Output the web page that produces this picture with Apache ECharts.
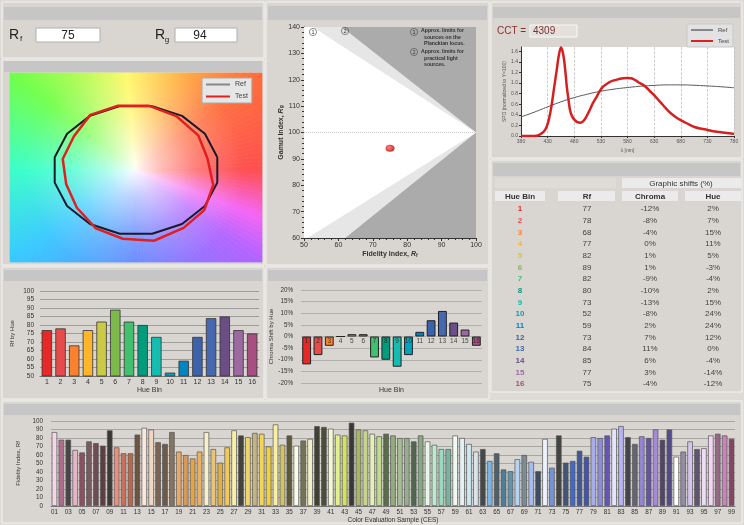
<!DOCTYPE html>
<html><head><meta charset="utf-8">
<script src="https://cdn.jsdelivr.net/npm/echarts@6/dist/echarts.min.js"></script>
<style>html,body{margin:0;padding:0;background:#dedbd6;}#c{width:744px;height:525px;}</style>
</head><body><div id="c"></div><script>
// ---------- DATA ----------
const RF = 75, RG = 94, CCT = 4309;
const hueBins = [1,2,3,4,5,6,7,8,9,10,11,12,13,14,15,16];
const rfByHue = [77,78,68,77,82,89,82,80,73,52,59,73,84,85,77,75];
const chromaShift = [-12,-8,-4,0,1,1,-9,-10,-13,-8,2,7,11,6,3,-4];
const hueShift = [2,7,15,11,5,-3,-4,2,15,24,24,12,0,-4,-14,-12];
const hueColors = ['#e62828','#e74b4b','#fb812e','#ffb529','#cbca46','#7eb94c','#41c06d','#009c7c',
  '#16bcb0','#00a4bf','#0085c3','#3b62aa','#4568ae','#6a4e85','#9d69a1','#a74f81'];

const spdTicks = [380,430,480,530,580,630,680,730,780];
const testNm  = [380,400,409,414,419,424,428,432,437,442,447,451,455,458,461,464,466,469,472,476,481,486,491,497,503,509,515,522,528,534,541,547,553,559,566,572,580,586,591,597,603,610,616,623,630,638,647,656,666,673,680,689,697,706,716,730,741,753,766,780];
const testVal = [0,0,0.005,0.02,0.05,0.1,0.17,0.3,0.55,0.9,1.24,1.52,1.67,1.6,1.43,1.15,0.93,0.7,0.49,0.37,0.3,0.26,0.25,0.28,0.37,0.49,0.62,0.74,0.85,0.93,0.98,1.02,1.045,1.06,1.08,1.09,1.095,1.09,1.075,1.04,1.0,0.96,0.91,0.84,0.77,0.68,0.58,0.48,0.39,0.34,0.3,0.25,0.21,0.17,0.14,0.115,0.09,0.075,0.055,0.04];
const refNm  = [380,405,430,455,480,505,530,555,580,605,630,655,680,705,730,755,780];
const refVal = [0.36,0.45,0.55,0.645,0.725,0.79,0.845,0.885,0.915,0.94,0.955,0.965,0.965,0.958,0.945,0.93,0.91];

const gamutLight = [[50,140],[61,140],[100,100],[62,60],[50,60]];
const gamutWhite = [[50,140],[52.5,140],[100,100],[51,60],[50,60]];

const cesLabels = Array.from({length:99},(_,i)=>String(i+1).padStart(2,'0'));
const cesValues = [87,78,78,66,63,76,74,71,89,69,62,62,84,92,90,75,73,87,64,60,56,64,87,67,51,69,89,83,81,86,
  85,70,96,72,83,71,77,79,94,93,91,84,83,98,90,89,85,82,85,83,80,80,76,83,76,72,67,67,83,80,
  73,64,67,53,62,43,41,55,60,52,41,79,45,83,51,53,65,58,81,80,83,91,94,81,73,82,80,90,78,90,
  58,64,76,67,68,83,85,83,79];
const cesColors = ['#f4d6e6','#b06c8c','#4a4448','#e8b4c8','#8c5064','#7a5c60','#6e4c54','#5e3c40','#3c3838','#e8907c',
  '#c8705c','#b8684c','#6c5444','#fae8de','#f2d8c4','#7c6454','#6e5a4a','#847464','#e8a868','#d89858',
  '#e4a448','#ecb060','#f8f0cc','#e8c474','#e0b040','#f4c858','#f8f0a8','#44443a','#f0d468','#c4b484',
  '#f4d454','#f0d040','#f8f0a0','#d4c464','#5c5838','#fafaec','#747454','#f0f0c4','#404034','#4c4c3c',
  '#f4f8d0','#e4f08c','#d4e060','#383834','#a8b468','#c8d48c','#e4f0b4','#c0dc8c','#5c6c48','#94ac7c',
  '#a8bc94','#98ac90','#506650','#88a884','#e8f8e8','#c0e8d0','#98dcc0','#78b4a0','#f0f8f4','#e4f0f0',
  '#cce8f0','#d8e4ec','#444848','#78b4e4','#506068','#4c7c98','#6494ac','#b4d4f4','#7c8c94','#a4bcf0',
  '#3c4c64','#eef2ff','#7494d8','#444444','#445474','#4468c8','#445894','#4454a8','#a8acec','#8c8cdc',
  '#6454b4','#e4e4ff','#b8b4f4','#44444c','#646474','#9484d4','#6454a4','#a888d8','#54446c','#544c88',
  '#ffffff','#948ca4','#d4c4ec','#645474','#ecdcf4','#f4d4f4','#946884','#c884b8','#844464'];

// ---------- helpers ----------
const FONT = 'Liberation Sans, Arial, sans-serif';
const G = [];
function panel(x,y,w,h,hy,hh){
  G.push({type:'rect',shape:{x:x,y:y,width:w,height:h},style:{fill:'#d9d6d1',stroke:'#f3f2ef',lineWidth:1},z:-30});
  G.push({type:'rect',shape:{x:x+2,y:hy,width:w-4,height:hh},style:{fill:'#c6c6c6'},z:-29});
}
function txt(x,y,t,o){
  G.push(Object.assign({type:'text',x:x,y:y,style:Object.assign({text:t,fontFamily:FONT,fontSize:8,fill:'#333',align:'center',verticalAlign:'middle'},o||{}),z:20}));
}
panel(2,2,262,56,7,13);
panel(2,60,262,205,61,11);
panel(266,2,223,263,6,14);
panel(491,2,251,156,7,11);
panel(491,160,251,232,163,13);
panel(2,267,262,132,270,11);
panel(266,267,223,132,270,11);
panel(2,401,740,122,404,11);

// Rf / Rg boxes
txt(14,35,'R',{fontSize:14,fill:'#222'});
txt(21,39,'f',{fontSize:8,fill:'#222'});
G.push({type:'rect',shape:{x:36,y:28,width:64,height:14},style:{fill:'#fff',stroke:'#b0b0b0'},z:10});
txt(68,35.5,String(RF),{fontSize:12,fill:'#222'});
txt(160,35,'R',{fontSize:14,fill:'#222'});
txt(167,40,'g',{fontSize:8,fill:'#222'});
G.push({type:'rect',shape:{x:175,y:28,width:62,height:14},style:{fill:'#fff',stroke:'#b0b0b0'},z:10});
txt(200,35.5,String(RG),{fontSize:12,fill:'#222'});

// CCT
txt(497,31,'CCT =',{fontSize:10,fill:'#8b2c2c',align:'left'});
G.push({type:'rect',shape:{x:530,y:25,width:47,height:12},style:{fill:'#e4e1dc',stroke:'#f8f8f8'},z:10});
txt(533,31.5,String(CCT),{fontSize:10,fill:'#7a3030',align:'left'});

// hue wheel background
const wx0=10, wy0=73, wx1=262, wy1=262, wcx=135, wcy=170;
const anchors=[[0,[255,70,70]],[37,[255,105,55]],[65,[255,175,60]],[95,[255,248,90]],[142,[110,255,70]],
  [180,[50,255,200]],[216,[50,200,255]],[270,[85,125,255]],[324,[175,95,255]],[340,[245,95,245]],[360,[255,70,70]]];
function hueCol(a){
  for(let i=0;i<anchors.length-1;i++){
    const [a0,c0]=anchors[i],[a1,c1]=anchors[i+1];
    if(a>=a0&&a<=a1){const t=(a-a0)/(a1-a0);return 'rgb('+c0.map((v,k)=>Math.round(v+(c1[k]-v)*t)).join(',')+')';}
  }
  return 'rgb(255,70,70)';
}
function rayHit(a){
  const dx=Math.cos(a*Math.PI/180), dy=-Math.sin(a*Math.PI/180);
  let t=1e9;
  if(dx>1e-9)t=Math.min(t,(wx1-wcx)/dx); if(dx<-1e-9)t=Math.min(t,(wx0-wcx)/dx);
  if(dy>1e-9)t=Math.min(t,(wy1-wcy)/dy); if(dy<-1e-9)t=Math.min(t,(wy0-wcy)/dy);
  return [wcx+dx*t,wcy+dy*t];
}
const corners=[[wx1,wy0],[wx0,wy0],[wx0,wy1],[wx1,wy1]].map(p=>{let a=Math.atan2(-(p[1]-wcy),p[0]-wcx)*180/Math.PI;if(a<0)a+=360;return {p:p,a:a};});
for(let a=0;a<360;a+=2){
  const pts=[[wcx,wcy],rayHit(a)];
  corners.forEach(c=>{if(c.a>a&&c.a<a+2)pts.push(c.p);});
  pts.push(rayHit(a+2));
  const col=hueCol(a+1);
  G.push({type:'polygon',shape:{points:pts},style:{fill:col,stroke:col,lineWidth:0.6},z:-20});
}
G.push({type:'rect',shape:{x:wx0,y:wy0,width:wx1-wx0,height:wy1-wy0},
  style:{fill:new echarts.graphic.RadialGradient((wcx-wx0)/(wx1-wx0),(wcy-wy0)/(wy1-wy0),0.95,[
    {offset:0,color:'rgba(255,255,255,0.97)'},{offset:0.15,color:'rgba(255,255,255,0.62)'},
    {offset:0.35,color:'rgba(255,255,255,0.28)'},{offset:0.6,color:'rgba(255,255,255,0.06)'},{offset:1,color:'rgba(255,255,255,0)'}])},z:-19});

// gamut annotations
function circNum(x,y,n){
  G.push({type:'circle',shape:{cx:x,cy:y,r:3.6},style:{fill:'none',stroke:'#444',lineWidth:0.6},z:20});
  txt(x,y+0.3,n,{fontSize:5.5,fill:'#333'});
}
circNum(313,32,'1'); circNum(345,31,'2');
circNum(414,32,'1'); circNum(414,52,'2');
const noteStyle={fontSize:5.2,fill:'#333',align:'left',fontWeight:'bold'};
txt(421,31,'Approx. limits for',noteStyle);
txt(424,37.3,'sources on the',noteStyle);
txt(424,43.6,'Planckian locus.',noteStyle);
txt(421,52,'Approx. limits for',noteStyle);
txt(424,58.3,'practical light',noteStyle);
txt(424,64.6,'sources.',noteStyle);

// table
const colX=[520,587,650,713];
G.push({type:'rect',shape:{x:495,y:178,width:121,height:10},style:{fill:'#dfdcd7'},z:5});
G.push({type:'rect',shape:{x:622,y:178,width:119,height:10},style:{fill:'#ebebeb'},z:5});
txt(681,183.3,'Graphic shifts (%)',{fontSize:8,fill:'#333'});
[[495,50,'Hue Bin'],[558,57,'Rf'],[622,56,'Chroma'],[685,56,'Hue']].forEach((c,i)=>{
  G.push({type:'rect',shape:{x:c[0],y:191,width:c[1],height:10},style:{fill:'#ebebeb'},z:5});
  txt(colX[i],196.3,c[2],{fontSize:8,fill:'#333',fontWeight:'bold'});
});
hueBins.forEach((b,i)=>{
  const y=209+i*11.67;
  txt(colX[0],y,String(b),{fontSize:8,fill:hueColors[i],fontWeight:'bold'});
  txt(colX[1],y,String(rfByHue[i]),{fontSize:8,fill:'#444'});
  txt(colX[2],y,chromaShift[i]+'%',{fontSize:8,fill:'#444'});
  txt(colX[3],y,hueShift[i]+'%',{fontSize:8,fill:'#444'});
});

// vector graphic points
const refPts=[], testPts=[];
hueBins.forEach((b,i)=>{
  const th=(i+0.5)*22.5*Math.PI/180;
  const tt=th+hueShift[i]/100*22.5*Math.PI/180;
  const rr=1+chromaShift[i]/100;
  refPts.push([Math.cos(th),Math.sin(th)]);
  testPts.push([rr*Math.cos(tt),rr*Math.sin(tt)]);
});
refPts.push(refPts[0]); testPts.push(testPts[0]);

const axLbl={fontFamily:FONT,fontSize:7,color:'#333'};
const chart=echarts.init(document.getElementById('c'),null,{width:744,height:525});
chart.setOption({
  animation:false,
  textStyle:{fontFamily:FONT},
  graphic:{elements:G},
  legend:[
    {left:202,top:78,orient:'vertical',data:[{name:'Ref',itemStyle:{color:'#888'}},{name:'Test',itemStyle:{color:'#e02020'}}],
     icon:'rect',itemWidth:24,itemHeight:2,itemGap:5,padding:[3,4,3,4],backgroundColor:'#e6e6e6',borderColor:'#aaa',borderWidth:1,
     textStyle:{fontSize:7,color:'#444'},selectedMode:false},
    {left:687,top:24,orient:'vertical',data:[{name:'Ref',itemStyle:{color:'#888'}},{name:'Test',itemStyle:{color:'#e02020'}}],
     icon:'rect',itemWidth:22,itemHeight:2,itemGap:5,padding:[3,4,3,4],backgroundColor:'#e2e2e2',borderColor:'#c8c8c8',borderWidth:1,
     textStyle:{fontSize:6,color:'#444'},selectedMode:false}
  ],
  grid:[
    {left:10,top:73,width:252,height:189},
    {left:304,top:27,width:172,height:211,show:true,backgroundColor:'#ababab',borderWidth:0},
    {left:521,top:47,width:213,height:89,show:true,backgroundColor:'#fff',borderWidth:0},
    {left:40,top:291,width:219,height:85},
    {left:301,top:290,width:181,height:93},
    {left:51,top:421,width:684,height:85}
  ],
  xAxis:[
    {gridIndex:0,type:'value',min:-1.52,max:1.52,show:false},
    {gridIndex:1,type:'value',min:50,max:100,interval:10,axisLine:{lineStyle:{color:'#333'}},axisTick:{length:3},
     minorTick:{show:true,splitNumber:5,length:2},splitLine:{show:false},axisLabel:Object.assign({margin:4},axLbl),
     name:'Fidelity Index, {i|R}{s|f}',nameLocation:'middle',nameGap:13,
     nameTextStyle:{fontSize:7,fontWeight:'bold',color:'#333',rich:{i:{fontSize:7,fontWeight:'bold',fontStyle:'italic'},s:{fontSize:5,fontWeight:'bold',verticalAlign:'bottom'}}}},
    {gridIndex:2,type:'value',min:380,max:780,interval:50,axisLine:{lineStyle:{color:'#333'}},axisTick:{length:2,customValues:spdTicks},
     axisLabel:{fontSize:5,color:'#555',margin:3,customValues:spdTicks},splitLine:{show:true,lineStyle:{color:'#b8b8b8',type:'dashed',width:0.7}},
     name:'λ [nm]',nameLocation:'middle',nameGap:12,nameTextStyle:{fontSize:5,color:'#555'}},
    {gridIndex:3,type:'category',data:hueBins.map(String),axisTick:{show:false},axisLine:{lineStyle:{color:'#777'}},
     axisLabel:Object.assign({margin:3},axLbl),name:'Hue Bin',nameLocation:'middle',nameGap:10,nameTextStyle:{fontSize:7,color:'#333'}},
    {gridIndex:4,type:'category',data:hueBins.map(String),axisTick:{show:false},axisLine:{show:false},axisLabel:{show:false},
     name:'Hue Bin',nameLocation:'middle',nameGap:4,nameTextStyle:{fontSize:7,color:'#333'}},
    {gridIndex:5,type:'category',data:cesLabels,axisTick:{show:false},axisLine:{lineStyle:{color:'#777'}},
     axisLabel:{interval:1,fontSize:6.3,color:'#333',margin:3},name:'Color Evaluation Sample (CES)',nameLocation:'middle',nameGap:11,
     nameTextStyle:{fontSize:6.5,color:'#333'}}
  ],
  yAxis:[
    {gridIndex:0,type:'value',min:-1.415,max:1.49,show:false},
    {gridIndex:1,type:'value',min:60,max:140,interval:10,axisLine:{show:true,lineStyle:{color:'#333'}},axisTick:{show:true,length:3},
     minorTick:{show:true,splitNumber:5,length:2},splitLine:{show:false},axisLabel:Object.assign({margin:4},axLbl),
     name:'Gamut Index, {i|R}{s|g}',nameLocation:'middle',nameGap:19,
     nameTextStyle:{fontSize:7,fontWeight:'bold',color:'#333',rich:{i:{fontSize:7,fontWeight:'bold',fontStyle:'italic'},s:{fontSize:5,fontWeight:'bold',verticalAlign:'bottom'}}}},
    {gridIndex:2,type:'value',min:0,max:1.68,interval:0.2,axisLine:{show:true,lineStyle:{color:'#333'}},axisTick:{show:true,length:2},
     splitLine:{show:false},axisLabel:{fontSize:5,color:'#555',margin:3,showMaxLabel:false,formatter:v=>v.toFixed(1)},
     name:'SPD (normalized to Y=100)',nameLocation:'middle',nameGap:14,nameTextStyle:{fontSize:5,color:'#555'}},
    {gridIndex:3,type:'value',min:50,max:100,interval:5,splitLine:{lineStyle:{color:'#8e8e8e',width:0.8}},
     axisLabel:Object.assign({margin:6},axLbl,{fontSize:6.5}),name:'Rf by Hue',nameLocation:'middle',nameGap:25,nameTextStyle:{fontSize:6,color:'#333'}},
    {gridIndex:4,type:'value',min:-20,max:20,interval:5,splitLine:{lineStyle:{color:'#a6a6a6',width:0.8}},
     axisLabel:Object.assign({margin:8,formatter:'{value}%'},axLbl,{fontSize:6.3}),name:'Chroma Shift by Hue',nameLocation:'middle',nameGap:22,nameTextStyle:{fontSize:6,color:'#333'}},
    {gridIndex:5,type:'value',min:0,max:100,interval:10,splitLine:{lineStyle:{color:'#999',width:0.8}},
     axisLabel:Object.assign({margin:8},axLbl,{fontSize:6.3}),name:'Fidelity Index, Rf',nameLocation:'middle',nameGap:27,nameTextStyle:{fontSize:6,color:'#333'}}
  ],
  series:[
    {name:'Ref',type:'line',xAxisIndex:0,yAxisIndex:0,data:refPts,showSymbol:false,lineStyle:{color:'#1a1a2a',width:2},itemStyle:{color:'#888'},z:3},
    {name:'Test',type:'line',xAxisIndex:0,yAxisIndex:0,data:testPts,showSymbol:false,lineStyle:{color:'#e02020',width:2.5},itemStyle:{color:'#e02020'},z:4},
    {type:'custom',xAxisIndex:1,yAxisIndex:1,data:[[0],[1]],silent:true,z:1,
     renderItem:(p,api)=>{const reg=p.dataIndex===0?gamutLight:gamutWhite;
       return {type:'polygon',shape:{points:reg.map(v=>api.coord(v))},style:{fill:p.dataIndex===0?'#e6e6e6':'#ffffff'}};}},
    {type:'line',xAxisIndex:1,yAxisIndex:1,data:[[50,100],[100,100]],showSymbol:false,lineStyle:{color:'#c8c8c8',type:'dotted',width:1},z:2},
    {type:'scatter',xAxisIndex:1,yAxisIndex:1,data:[[RF,RG]],symbolSize:[9,7],z:5,
     itemStyle:{color:new echarts.graphic.RadialGradient(0.4,0.4,0.6,[{offset:0,color:'#ff6060'},{offset:1,color:'#c00000'}])}},
    {name:'Ref',type:'line',xAxisIndex:2,yAxisIndex:2,data:refNm.map((n,i)=>[n,refVal[i]]),showSymbol:false,smooth:true,lineStyle:{color:'#555',width:1},itemStyle:{color:'#888'}},
    {name:'Test',type:'line',xAxisIndex:2,yAxisIndex:2,data:testNm.map((n,i)=>[n,testVal[i]]),showSymbol:false,smooth:0.3,lineStyle:{color:'#d42020',width:2.5},itemStyle:{color:'#e02020'}},
    {type:'bar',xAxisIndex:3,yAxisIndex:3,barCategoryGap:'24%',
     data:rfByHue.map((v,i)=>({value:v,itemStyle:{color:hueColors[i],borderColor:'#333',borderWidth:0.8}}))},
    {type:'bar',xAxisIndex:4,yAxisIndex:4,barCategoryGap:'22%',
     data:chromaShift.map((v,i)=>({value:v,itemStyle:{color:hueColors[i],borderColor:'#222',borderWidth:1}}))},
    {type:'scatter',xAxisIndex:4,yAxisIndex:4,symbolSize:0,z:10,silent:true,
     data:hueBins.map((b,i)=>[i,0]),
     label:{show:true,position:'bottom',distance:1,fontSize:6.5,color:'#222',formatter:p=>String(hueBins[p.dataIndex])}},
    {type:'bar',xAxisIndex:5,yAxisIndex:5,barCategoryGap:'20%',
     data:cesValues.map((v,i)=>({value:v,itemStyle:{color:cesColors[i],borderColor:'#555',borderWidth:0.7}}))}
  ]
});
</script></body></html>
